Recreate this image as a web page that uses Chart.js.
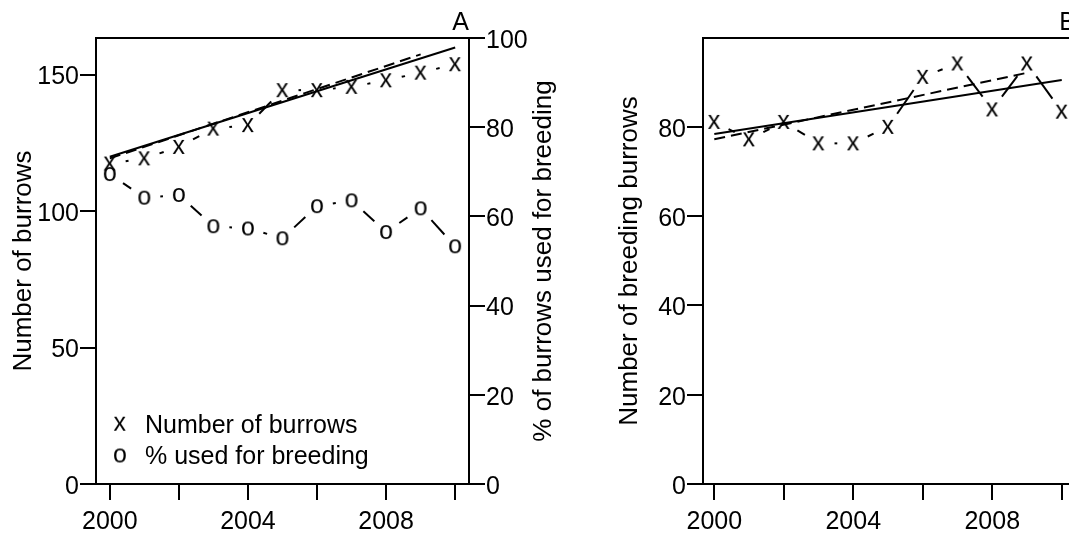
<!DOCTYPE html>
<html>
<head>
<meta charset="utf-8">
<title>Burrow counts 2000–2010</title>
<script src="https://cdn.jsdelivr.net/npm/chart.js@4.4.1/dist/chart.umd.min.js"></script>
<style>
  html, body { margin: 0; padding: 0; background: #fff; overflow: hidden; }
  #wrap { position: relative; width: 1069px; height: 533px; overflow: hidden; background: #fff; }
  #wrap canvas { position: absolute; top: 0; }
  #panelA { left: 0; }
  #panelB { left: 560px; }
</style>
</head>
<body>
<div id="wrap">
  <canvas id="panelA" width="600" height="533"></canvas>
  <canvas id="panelB" width="560" height="533"></canvas>
</div>
<script>
// ---- data ----
const years = [2000, 2001, 2002, 2003, 2004, 2005, 2006, 2007, 2008, 2009, 2010];
const burrows = [117.4, 119.3, 123.5, 130.2, 131.5, 144.3, 144.3, 145.5, 147.9, 150.7, 153.8];
const pctBreeding = [69.5, 64.2, 64.8, 57.8, 57.3, 55.1, 62.3, 63.6, 56.5, 61.8, 53.3];
const breedingBurrows = [81.1, 77.2, 81.1, 76.3, 76.3, 80.0, 91.2, 94.2, 83.9, 94.2, 83.4];

// fitted trends (solid: 2000–2010, dashed: 2000–2009)
const trendYears = [2000, 2010];
const trendYearsShort = [2000, 2009];
const burrowsTrend = [119.9, 159.9];
const burrowsTrendShort = [119.3, 157.4];
const breedingTrend = [78.4, 90.5];
const breedingTrendShort = [77.2, 92.1];

// axes
const xTickValues = [2000, 2002, 2004, 2006, 2008, 2010];
const xTickLabels = ['2000', '', '2004', '', '2008', ''];
const burrowsTicks = [0, 50, 100, 150];
const pctTicks = [0, 20, 40, 60, 80, 100];
const breedingTicks = [0, 20, 40, 60, 80];

// ---- drawing helpers ----
const FONT = '"Liberation Sans", Arial, Helvetica, sans-serif';
const FSIZE = 25;      // tick labels, key, symbols
const TSIZE = 26;      // axis titles
const GAP = 16;

// plotting symbols: the letters "x" and "o" centred on their ink box
function glyph(ch) {
  const c = document.createElement('canvas');
  c.width = 30; c.height = 30;
  const g = c.getContext('2d');
  g.font = FSIZE + 'px ' + FONT;
  g.fillStyle = '#000';
  const m = g.measureText(ch);
  const w = m.actualBoundingBoxLeft + m.actualBoundingBoxRight;
  const h = m.actualBoundingBoxAscent + m.actualBoundingBoxDescent;
  g.fillText(ch, 15 - w / 2 + m.actualBoundingBoxLeft, 15 - h / 2 + m.actualBoundingBoxAscent);
  return c;
}
const symX = glyph('x');
const symO = glyph('o');

const pts = (xs, ys) => xs.map((x, i) => ({ x: x, y: ys[i] }));

// connecting segments that stop short of each symbol
const gappedLines = {
  id: 'gappedLines',
  afterDatasetsDraw(chart) {
    const ctx = chart.ctx;
    chart.data.datasets.forEach((ds, i) => {
      if (!ds.gapped) return;
      const el = chart.getDatasetMeta(i).data;
      ctx.save();
      ctx.strokeStyle = '#000';
      ctx.lineWidth = 2;
      for (let k = 0; k < el.length - 1; k++) {
        const a = el[k], b = el[k + 1];
        const dx = b.x - a.x, dy = b.y - a.y, d = Math.hypot(dx, dy);
        if (d <= 2 * GAP) continue;
        const ux = dx / d, uy = dy / d;
        ctx.beginPath();
        ctx.moveTo(a.x + ux * GAP, a.y + uy * GAP);
        ctx.lineTo(b.x - ux * GAP, b.y - uy * GAP);
        ctx.stroke();
      }
      ctx.restore();
    });
  }
};

// box around the plotting region
const frame = {
  id: 'frame',
  afterDraw(chart) {
    const { ctx, chartArea: a } = chart;
    ctx.save();
    ctx.strokeStyle = '#000';
    ctx.lineWidth = 2;
    ctx.strokeRect(a.left, a.top, a.right - a.left, a.bottom - a.top);
    ctx.restore();
  }
};

// extra text: panel letter, right-hand axis title, in-plot key
const annotations = {
  id: 'annotations',
  afterDraw(chart, args, opts) {
    const { ctx, chartArea: a } = chart;
    ctx.save();
    ctx.fillStyle = '#000';
    if (opts.letter) {
      ctx.font = FSIZE + 'px ' + FONT;
      ctx.textAlign = 'right';
      ctx.textBaseline = 'alphabetic';
      ctx.fillText(opts.letter, a.right, 30);
    }
    if (opts.rightTitle) {
      ctx.save();
      ctx.font = TSIZE + 'px ' + FONT;
      ctx.translate(opts.rightTitleX, (a.top + a.bottom) / 2);
      ctx.rotate(-Math.PI / 2);
      ctx.textAlign = 'center';
      ctx.textBaseline = 'middle';
      ctx.fillText(opts.rightTitle, 0, 0);
      ctx.restore();
    }
    if (opts.key) {
      ctx.font = FSIZE + 'px ' + FONT;
      ctx.textAlign = 'left';
      ctx.textBaseline = 'alphabetic';
      opts.key.forEach(item => {
        ctx.drawImage(item.sym, item.symX - 15, item.symY - 15);
        ctx.fillText(item.text, item.textX, item.baseline);
      });
    }
    ctx.restore();
  }
};

const tickFont = { family: FONT, size: FSIZE, lineHeight: 1 };
const titleFont = { family: FONT, size: TSIZE, lineHeight: 1 };

function xScale(min, max) {
  return {
    type: 'linear', position: 'bottom', min: min, max: max,
    afterBuildTicks: s => { s.ticks = xTickValues.map(v => ({ value: v })); },
    afterFit: s => { s.height = 49; },
    ticks: { autoSkip: false, maxRotation: 0, padding: 9.5, color: '#000', font: tickFont,
             callback: (v, i) => xTickLabels[i] },
    grid: { drawOnChartArea: false, drawTicks: true, tickLength: 16, lineWidth: 2, color: '#000', tickColor: '#000' },
    border: { display: false }
  };
}

function yScale(pos, min, max, tickVals, width, title, titlePad) {
  return {
    type: 'linear', position: pos, min: min, max: max,
    afterBuildTicks: s => { s.ticks = tickVals.map(v => ({ value: v })); },
    afterFit: s => { s.width = width; },
    ticks: { autoSkip: false, padding: 1, labelOffset: 3, color: '#000', font: tickFont,
             callback: v => String(v) },
    grid: { drawOnChartArea: false, drawTicks: true, tickLength: 16, lineWidth: 2, color: '#000', tickColor: '#000' },
    border: { display: false },
    title: title ? { display: true, text: title, color: '#000', font: titleFont, padding: { top: titlePad, bottom: 0 } } : { display: false }
  };
}

const common = {
  responsive: false,
  animation: false,
  events: [],
  plugins: { legend: { display: false }, tooltip: { enabled: false } }
};

// ---- panel A: burrow numbers and share used for breeding ----
new Chart(document.getElementById('panelA'), {
  type: 'scatter',
  data: {
    datasets: [
      { label: 'Number of burrows', data: pts(years, burrows), yAxisID: 'y',
        pointStyle: symX, pointRadius: 8, showLine: false, gapped: true },
      { label: '% used for breeding', data: pts(years, pctBreeding), yAxisID: 'y2',
        pointStyle: symO, pointRadius: 8, showLine: false, gapped: true },
      { label: 'Trend 2000–2010', data: pts(trendYears, burrowsTrend), yAxisID: 'y',
        showLine: true, pointRadius: 0, borderColor: '#000', borderWidth: 2 },
      { label: 'Trend 2000–2009', data: pts(trendYearsShort, burrowsTrendShort), yAxisID: 'y',
        showLine: true, pointRadius: 0, borderColor: '#000', borderWidth: 2, borderDash: [11, 6] }
    ]
  },
  options: Object.assign({}, common, {
    layout: { padding: { top: 38, left: 0, right: 0, bottom: 0 } },
    scales: {
      x: xScale(1999.6, 2010.4),
      y: yScale('left', 0, 163.4, burrowsTicks, 96, 'Number of burrows', 10.5),
      y2: yScale('right', 0, 100, pctTicks, 131, null, 0)
    },
    plugins: Object.assign({}, common.plugins, {
      annotations: {
        letter: 'A',
        rightTitle: '% of burrows used for breeding',
        rightTitleX: 543.5,
        key: [
          { sym: symX, symX: 120, symY: 423.7, text: 'Number of burrows', textX: 145, baseline: 432.7 },
          { sym: symO, symX: 120, symY: 455.5, text: '% used for breeding', textX: 145, baseline: 464 }
        ]
      }
    })
  }),
  plugins: [gappedLines, frame, annotations]
});

// ---- panel B: breeding burrows ----
new Chart(document.getElementById('panelB'), {
  type: 'scatter',
  data: {
    datasets: [
      { label: 'Number of breeding burrows', data: pts(years, breedingBurrows), yAxisID: 'y',
        pointStyle: symX, pointRadius: 8, showLine: false, gapped: true },
      { label: 'Trend 2000–2010', data: pts(trendYears, breedingTrend), yAxisID: 'y',
        showLine: true, pointRadius: 0, borderColor: '#000', borderWidth: 2 },
      { label: 'Trend 2000–2009', data: pts(trendYearsShort, breedingTrendShort), yAxisID: 'y',
        showLine: true, pointRadius: 0, borderColor: '#000', borderWidth: 2, borderDash: [11, 6] }
    ]
  },
  options: Object.assign({}, common, {
    layout: { padding: { top: 38, left: 0, right: 44, bottom: 0 } },
    scales: {
      x: xScale(1999.675, 2010.41),
      y: yScale('left', 0, 99.9, breedingTicks, 143, 'Number of breeding burrows', 56.5)
    },
    plugins: Object.assign({}, common.plugins, {
      annotations: { letter: 'B' }
    })
  }),
  plugins: [gappedLines, frame, annotations]
});
</script>
</body>
</html>
